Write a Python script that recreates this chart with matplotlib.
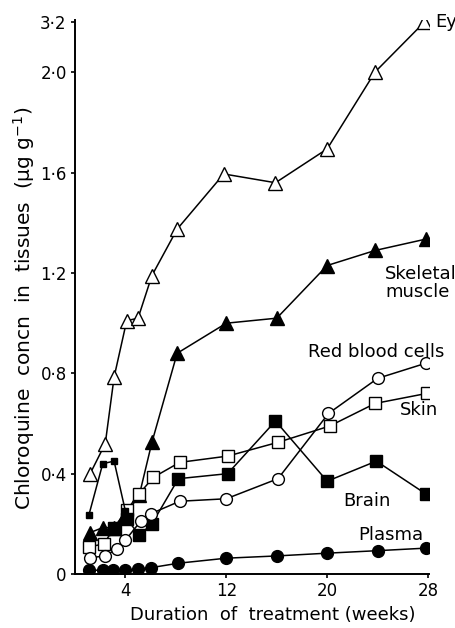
import numpy as np
import matplotlib
matplotlib.use("Agg")
import matplotlib.pyplot as plt

# ---- data ----
eye_weeks = [1.2, 2.4, 3.1, 4.1, 5.0, 6.1, 8.1, 11.8, 15.9, 20.0, 23.8, 27.7]
eye_conc = [0.40, 0.52, 0.785, 1.01, 1.02, 1.19, 1.375, 1.595, 1.56, 1.695, 2.01, 3.2]

muscle_weeks = [1.2, 2.2, 3.1, 4.0, 5.1, 6.1, 8.1, 12.0, 16.0, 20.0, 23.8, 27.8]
muscle_conc = [0.165, 0.185, 0.185, 0.235, 0.315, 0.525, 0.88, 1.0, 1.02, 1.23, 1.29, 1.335]

rbc_weeks = [1.2, 2.4, 3.3, 4.0, 5.2, 6.0, 8.3, 12.0, 16.1, 20.1, 24.0, 27.8]
rbc_conc = [0.065, 0.072, 0.10, 0.135, 0.21, 0.24, 0.29, 0.30, 0.38, 0.64, 0.78, 0.84]

skin_weeks = [1.1, 2.3, 3.1, 4.1, 5.1, 6.2, 8.3, 12.1, 16.1, 20.2, 23.8, 27.9]
skin_conc = [0.108, 0.12, 0.185, 0.255, 0.32, 0.385, 0.445, 0.47, 0.525, 0.59, 0.68, 0.72]

brain_weeks = [3.2, 4.1, 5.1, 6.1, 8.2, 12.1, 15.9, 20.0, 23.9, 27.8]
brain_conc = [0.18, 0.22, 0.155, 0.20, 0.38, 0.40, 0.61, 0.37, 0.45, 0.32]

brain_early_weeks = [1.1, 2.2, 3.1, 4.0]
brain_early_conc = [0.235, 0.44, 0.45, 0.25]

plasma_weeks = [1.1, 2.2, 3.0, 4.0, 5.0, 6.0, 8.2, 12.0, 16.0, 20.0, 24.0, 27.8]
plasma_conc = [0.015, 0.015, 0.015, 0.015, 0.02, 0.025, 0.043, 0.063, 0.072, 0.083, 0.093, 0.103]

x_ticks = [4, 12, 20, 28]
x_tick_labels = ["4", "12", "20", "28"]
y_ticks = [0, 0.4, 0.8, 1.2, 1.6, 2.0, 3.2]
y_tick_labels = ["0", "0·4", "0·8", "1·2", "1·6", "2·0", "3·2"]

series_labels = ["Eye", "Skeletal\nmuscle", "Red blood cells", "Skin", "Brain", "Plasma"]

# ---- broken y scale: values above 2.0 are compressed ----
def fwd(v):
    v = np.asarray(v, dtype=float)
    return np.where(v <= 2.0, v, 2.0 + (v - 2.0) / 6.0)

def inv(v):
    v = np.asarray(v, dtype=float)
    return np.where(v <= 2.0, v, 2.0 + (v - 2.0) * 6.0)

plt.rcParams['font.family'] = ['DejaVu Sans']

fig = plt.figure(figsize=(4.56, 6.28), dpi=100)
ax = fig.add_axes([0.1645, 0.086, 0.777, 0.8826])
ax.set_yscale('function', functions=(fwd, inv))

lw = 1.1
common = dict(color='black', lw=lw, markeredgecolor='black', markeredgewidth=1.0)

ax.plot(eye_weeks, eye_conc, marker='^', ms=10, markerfacecolor='white', zorder=3, **common)
ax.plot(muscle_weeks, muscle_conc, marker='^', ms=10, markerfacecolor='black', zorder=3, **common)
ax.plot(skin_weeks, skin_conc, marker='s', ms=8, markerfacecolor='white', zorder=4, **common)
ax.plot(brain_weeks, brain_conc, marker='s', ms=8, markerfacecolor='black', zorder=4, **common)
ax.plot(brain_early_weeks, brain_early_conc, marker='s', ms=4.5, markerfacecolor='black', zorder=4, **common)
ax.plot(rbc_weeks, rbc_conc, marker='o', ms=8.5, markerfacecolor='white', zorder=5, **common)
ax.plot(plasma_weeks, plasma_conc, marker='o', ms=8.5, markerfacecolor='black', zorder=5, **common)

ax.set_xlim(0, 28.1)
ax.set_ylim(0, 3.26)

ax.set_xticks(x_ticks)
ax.set_xticklabels(x_tick_labels)
ax.set_yticks(y_ticks)
ax.set_yticklabels(y_tick_labels)
ax.minorticks_off()

for s in ['top', 'right']:
    ax.spines[s].set_visible(False)
for s in ['left', 'bottom']:
    ax.spines[s].set_linewidth(1.4)
ax.tick_params(axis='both', direction='out', length=3, width=1.2, labelsize=12, pad=3)

ax.set_xlabel("Duration  of  treatment (weeks)", fontsize=13, va='top')
ax.xaxis.set_label_coords(0.557, -0.058)
ax.set_ylabel("Chloroquine  concn  in  tissues  (μg g$^{-1}$)", fontsize=14.5)
ax.yaxis.set_label_coords(-0.107, 0.48)

tk = dict(fontsize=13, color='black', clip_on=False)
ax.text(28.6, 3.2, series_labels[0], ha='left', va='center', **tk)
ax.text(24.6, 1.16, series_labels[1], ha='left', va='center', linespacing=0.95, **tk)
ax.text(18.5, 0.885, series_labels[2], ha='left', va='center', **tk)
ax.text(25.8, 0.655, series_labels[3], ha='left', va='center', **tk)
ax.text(21.3, 0.29, series_labels[4], ha='left', va='center', **tk)
ax.text(22.5, 0.155, series_labels[5], ha='left', va='center', **tk)

fig.savefig("out.png", dpi=100)
